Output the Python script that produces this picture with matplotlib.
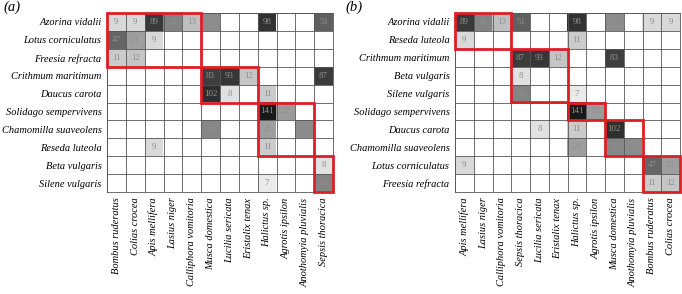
import numpy as np
import matplotlib
matplotlib.use("Agg")
import matplotlib.pyplot as plt
from matplotlib.colors import LinearSegmentedColormap, LogNorm
from matplotlib.patches import Rectangle

# interactions: plant, pollinator, visit count
int_plants = ["Azorina vidalii", "Azorina vidalii", "Azorina vidalii", "Azorina vidalii",
              "Azorina vidalii", "Azorina vidalii", "Azorina vidalii", "Azorina vidalii",
              "Lotus corniculatus", "Lotus corniculatus", "Lotus corniculatus",
              "Freesia refracta", "Freesia refracta",
              "Crithmum maritimum", "Crithmum maritimum", "Crithmum maritimum", "Crithmum maritimum",
              "Daucus carota", "Daucus carota", "Daucus carota",
              "Solidago sempervivens", "Solidago sempervivens",
              "Chamomilla suaveolens", "Chamomilla suaveolens", "Chamomilla suaveolens",
              "Reseda luteola", "Reseda luteola",
              "Beta vulgaris",
              "Silene vulgaris", "Silene vulgaris"]
int_pollinators = ["Bombus ruderatus", "Colias crocea", "Apis mellifera", "Lasius niger",
                   "Calliphora vomitoria", "Musca domestica", "Halictus sp.", "Sepsis thoracica",
                   "Bombus ruderatus", "Colias crocea", "Apis mellifera",
                   "Bombus ruderatus", "Colias crocea",
                   "Musca domestica", "Lucilia sericata", "Eristalix tenax", "Sepsis thoracica",
                   "Musca domestica", "Lucilia sericata", "Halictus sp.",
                   "Halictus sp.", "Agrotis ipsilon",
                   "Musca domestica", "Halictus sp.", "Anothomyia pluvialis",
                   "Apis mellifera", "Halictus sp.",
                   "Sepsis thoracica",
                   "Halictus sp.", "Sepsis thoracica"]
int_counts = [9, 9, 89, 31, 13, 27, 98, 51,
              47, 21, 9,
              11, 12,
              83, 93, 12, 87,
              102, 8, 11,
              141, 22,
              29, 21, 27,
              9, 11,
              8,
              7, 30]

# panel (a) ordering and modules (row0,row1,col0,col1)
rows_a = ["Azorina vidalii", "Lotus corniculatus", "Freesia refracta", "Crithmum maritimum",
          "Daucus carota", "Solidago sempervivens", "Chamomilla suaveolens", "Reseda luteola",
          "Beta vulgaris", "Silene vulgaris"]
cols_a = ["Bombus ruderatus", "Colias crocea", "Apis mellifera", "Lasius niger",
          "Calliphora vomitoria", "Musca domestica", "Lucilia sericata", "Eristalix tenax",
          "Halictus sp.", "Agrotis ipsilon", "Anothomyia pluvialis", "Sepsis thoracica"]
modules_a = [(0, 2, 0, 4), (3, 4, 5, 7), (5, 7, 8, 10), (8, 9, 11, 11)]

# panel (b)
rows_b = ["Azorina vidalii", "Reseda luteola", "Crithmum maritimum", "Beta vulgaris",
          "Silene vulgaris", "Solidago sempervivens", "Daucus carota", "Chamomilla suaveolens",
          "Lotus corniculatus", "Freesia refracta"]
cols_b = ["Apis mellifera", "Lasius niger", "Calliphora vomitoria", "Sepsis thoracica",
          "Lucilia sericata", "Eristalix tenax", "Halictus sp.", "Agrotis ipsilon",
          "Musca domestica", "Anothomyia pluvialis", "Bombus ruderatus", "Colias crocea"]
modules_b = [(0, 1, 0, 2), (2, 4, 3, 5), (5, 5, 6, 7), (6, 7, 8, 9), (8, 9, 10, 11)]

SERIF = "Liberation Serif"
cmap = LinearSegmentedColormap.from_list("g", [(0.92, 0.92, 0.92), (0.10, 0.10, 0.10)])
cmap.set_bad("white")
norm = LogNorm(vmin=7, vmax=141)
RED = "#dc1f26"
GRID = "#555555"


def build(rows, cols):
    m = np.zeros((len(rows), len(cols)))
    for p, q, c in zip(int_plants, int_pollinators, int_counts):
        m[rows.index(p), cols.index(q)] = c
    return m


def draw(ax, rows, cols, modules):
    m = build(rows, cols)
    nr, nc = m.shape
    ax.imshow(np.ma.masked_equal(m, 0), cmap=cmap, norm=norm, aspect="auto",
              extent=(-0.5, nc - 0.5, nr - 0.5, -0.5), interpolation="nearest")
    for i in range(nr):
        for j in range(nc):
            if m[i, j] > 0:
                ax.text(j, i, "%d" % m[i, j], ha="center", va="center", fontsize=6.5,
                        color="#909090", family=SERIF)
    for k in range(nr + 1):
        ax.axhline(k - 0.5, color=GRID, lw=0.6, zorder=3)
    for k in range(nc + 1):
        ax.axvline(k - 0.5, color=GRID, lw=0.6, zorder=3)
    for r0, r1, c0, c1 in modules:
        ax.add_patch(Rectangle((c0 - 0.5, r0 - 0.5), c1 - c0 + 1, r1 - r0 + 1, fill=False,
                               edgecolor=RED, lw=2.0, zorder=6, clip_on=False))
    ax.set_xlim(-0.5, nc - 0.5)
    ax.set_ylim(nr - 0.5, -0.5)
    ax.set_xticks(np.arange(nc))
    ax.set_xticklabels(cols, rotation=90, fontsize=7.5, family=SERIF, style="italic")
    ax.set_yticks(np.arange(nr))
    ax.set_yticklabels(rows, fontsize=7.5, family=SERIF, style="italic")
    ax.tick_params(length=0, pad=4)
    for s in ax.spines.values():
        s.set_color(GRID)
        s.set_linewidth(0.6)


fig = plt.figure(figsize=(6.82, 2.94), dpi=100)
W, H = 682.0, 294.0
ax_a = fig.add_axes([107 / W, 1 - 192 / H, 226 / W, 179 / H])
ax_b = fig.add_axes([455 / W, 1 - 192 / H, 225 / W, 179 / H])
draw(ax_a, rows_a, cols_a, modules_a)
draw(ax_b, rows_b, cols_b, modules_b)
fig.text(3 / W, 1 - 1 / H, "(a)", fontsize=10.5, family=SERIF, style="italic", va="top")
fig.text(345 / W, 1 - 1 / H, "(b)", fontsize=10.5, family=SERIF, style="italic", va="top")
fig.savefig("out.png", dpi=100)
